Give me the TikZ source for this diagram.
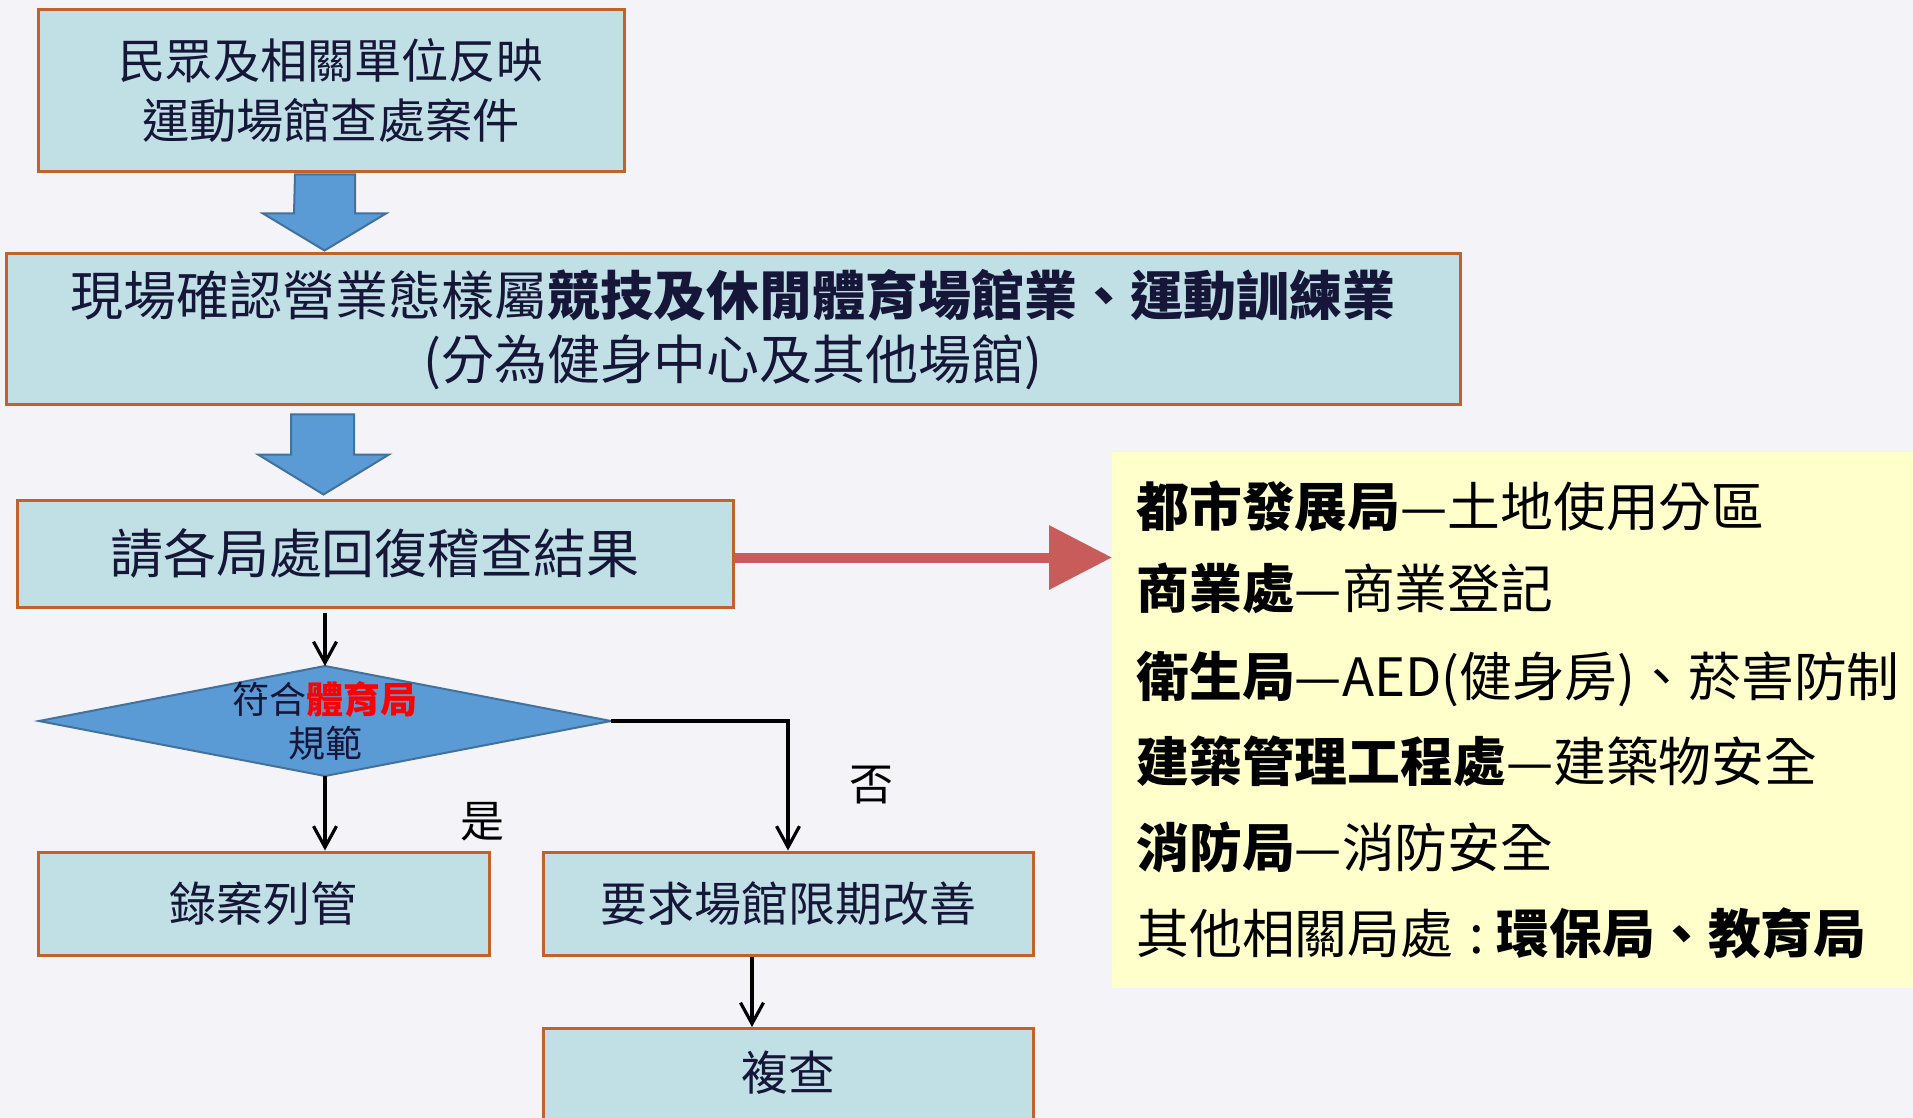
\documentclass[tikz,border=0pt]{standalone}
\usepackage{fontspec}
\setmainfont{Noto Sans CJK TC}
\usetikzlibrary{arrows.meta,shapes.geometric,calc}
\definecolor{bgc}{RGB}{244,243,247}
\definecolor{boxfill}{RGB}{192,224,230}
\definecolor{boxdraw}{RGB}{192,98,42}
\definecolor{navy}{RGB}{22,22,56}
\definecolor{arrfill}{RGB}{91,155,213}
\definecolor{arrdraw}{RGB}{65,113,156}
\definecolor{redarr}{RGB}{200,92,90}
\definecolor{panelc}{RGB}{255,255,204}
\newcommand{\fsz}[2]{\fontsize{#1pt}{#2pt}\selectfont}
\tikzset{
  box/.style={draw=boxdraw, fill=boxfill, line width=1.5pt, text=navy, inner sep=0pt, align=center},
  diashape/.style={draw=arrdraw, fill=arrfill, line width=1pt, line join=miter},
  diatxt/.style={text=navy, inner sep=0pt, align=center, font=\fsz{18.5}{22}},
  blockarr/.style={draw=arrdraw, fill=arrfill, line width=1pt, line join=miter},
  blk/.style={line width=1.6pt, -{Straight Barb[length=10.5pt,width=11.5pt,line width=1.6pt]}},
  redconn/.style={draw=redarr, line width=5pt, -{Triangle[length=31.5pt,width=31pt]}},
  paneltxt/.style={anchor=base west, inner sep=0pt, text=black, font=\fsz{26.4}{30}},
  lbl/.style={inner sep=0pt, text=black, font=\fsz{22}{26}}
}
\begin{document}
\begin{tikzpicture}[x=0.5pt,y=-0.5pt]
\useasboundingbox (0,0) rectangle (1913,1118);
\begin{scope}
\clip (0,0) rectangle (1913,1118);
\fill[bgc] (0,0) rectangle (1913,1118);

% yellow panel
\node[fill=panelc, draw=none, anchor=north west, minimum width=410pt, minimum height=268pt, inner sep=0pt] (panel) at (1112,452) {};

% boxes
\node[box, minimum width=293pt, minimum height=81pt, font=\fsz{23.6}{30}] (box1) at (331,91) {民眾及相關單位反映\\運動場館查處案件};
\node[box, minimum width=727pt, minimum height=75.5pt, font=\fsz{26.5}{32}] (box2) at (733,329.5) {現場確認營業態樣屬\textbf{競技及休閒體育場館業、運動訓練業}\\(分為健身中心及其他場館)};
\node[box, minimum width=358pt, minimum height=53.5pt, font=\fsz{26.5}{32}] (box3) at (375,553.5) {請各局處回復稽查結果};

% decision diamond
\coordinate (diaC) at (325,721);
\coordinate (diaN) at (325,666);
\coordinate (diaS) at (325,776);
\coordinate (diaW) at (39,721);
\coordinate (diaE) at (611,721);
\draw[diashape] (diaN) -- (diaE) -- (diaS) -- (diaW) -- cycle;
\node[diatxt] (dia) at (diaC) {符合\textcolor{red}{\textbf{體育局}}\\規範};

\node[box, minimum width=225.5pt, minimum height=51.5pt, font=\fsz{23.5}{28}] (box4) at (263.5,903.5) {錄案列管};
\node[box, minimum width=245pt, minimum height=51.5pt, font=\fsz{23.5}{28}] (box5) at (788,903.5) {要求場館限期改善};
\node[box, anchor=north, minimum width=245pt, minimum height=100pt] (box6) at (788,1027) {};
\node[inner sep=0pt, text=navy, font=\fsz{23.5}{28}] (t6) at (788,1073) {複查};

% block arrows
\draw[blockarr] ($(box1.south)+(-36,1)$) -- ++(60,0) -- ++(0,39) -- ++(31,0) -- ++(-61.5,37) -- ++(-61.5,-37) -- ++(31,0) -- cycle;
\draw[blockarr] ($(box2.south)+(-442,8)$) -- ++(63,0) -- ++(0,40) -- ++(35,0) -- ++(-65.5,40) -- ++(-65.5,-40) -- ++(33,0) -- cycle;

% red connector
\draw[redconn] ([yshift=-2pt]box3.east) -- ([yshift=-2pt]box3.east -| panel.west);

% black connectors
\draw[blk] ([yshift=-2pt]box3.south -| diaN) -- (diaN);
\draw[blk] (diaS) -- (diaS |- box4.north);
\draw[blk] (diaE) -| (box5.north);
\draw[blk] ([xshift=-18pt]box5.south) -- ([xshift=-18pt]box6.north);

% labels
\node[lbl] (yes) at (482,822) {是};
\node[lbl] (no) at (871,785) {否};

% panel text
\node[paneltxt] (p1) at (1136,526) {\textbf{都市發展局}—土地使用分區};
\node[paneltxt] (p2) at (1136,608) {\textbf{商業處}—商業登記};
\node[paneltxt] (p3) at (1136,696) {\textbf{衛生局}—AED(健身房)、菸害防制};
\node[paneltxt] (p4) at (1136,781) {\textbf{建築管理工程處}—建築物安全};
\node[paneltxt] (p5) at (1136,867) {\textbf{消防局}—消防安全};
\node[paneltxt] (p6) at (1136,953) {其他相關局處\hspace{0.3em}:\hspace{0.25em}\textbf{環保局、教育局}};
\end{scope}
\end{tikzpicture}
\end{document}
